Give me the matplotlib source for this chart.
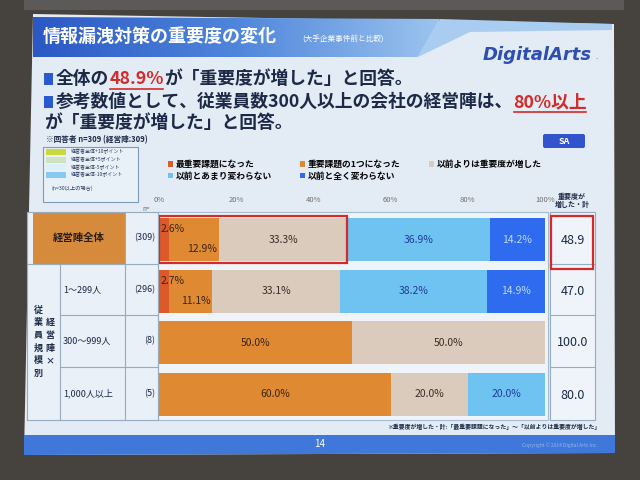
import numpy as np
import matplotlib.pyplot as plt
from matplotlib.patches import Rectangle, Polygon, FancyBboxPatch
from matplotlib.colors import LinearSegmentedColormap

plt.rcParams['font.family'] = ['Noto Sans CJK JP', 'DejaVu Sans']

# データ
categories = ['経営陣全体', '1～299人', '300～999人', '1,000人以上']
n_labels = ['(309)', '(296)', '(8)', '(5)']
series_names = ['最重要課題になった', '重要課題の1つになった', '以前よりは重要度が増した',
                '以前とあまり変わらない', '以前と全く変わらない']
most_important = [2.6, 2.7, 0.0, 0.0]
one_of_important = [12.9, 11.1, 50.0, 60.0]
more_than_before = [33.3, 33.1, 50.0, 20.0]
not_much_changed = [36.9, 38.2, 0.0, 20.0]
not_changed = [14.2, 14.9, 0.0, 0.0]
increased_total = [48.9, 47.0, 100.0, 80.0]
x_ticks = [0, 20, 40, 60, 80, 100]

series = [most_important, one_of_important, more_than_before, not_much_changed, not_changed]
colors = ['#dc5a2a', '#df8a32', '#dacbbd', '#6fc3f1', '#2f6bef']
text_colors = ['#3a2418', '#3a2418', '#3a2e28', '#1f3c9a', '#bcd9ff']

navy = '#1c2a48'
red = '#d42a2a'

fig = plt.figure(figsize=(6.4, 4.8), dpi=100)
fig.patch.set_facecolor('#46433e')

# 背景（ピクセル座標）
bg = fig.add_axes([0, 0, 1, 1])
bg.set_xlim(0, 640)
bg.set_ylim(480, 0)
bg.axis('off')

# スライド
bg.add_patch(Polygon([(33, 14), (614, 24), (615, 453), (24, 455)], closed=True,
                     facecolor='#e3ebf4', edgecolor='none'))
bg.add_patch(Rectangle((24, 0), 600, 10, facecolor='#5b5a58', edgecolor='none'))

# タイトル帯（グラデーション）
grad = np.linspace(0, 1, 256).reshape(1, -1)
cmap = LinearSegmentedColormap.from_list('t', ['#2b58c4', '#4f86dc', '#9cc4ee'])
im = bg.imshow(grad, extent=(33, 440, 57, 17), cmap=cmap, aspect='auto', zorder=1)
clip = Polygon([(33, 17), (440, 19), (418, 57), (33, 57)], closed=True,
               transform=bg.transData, facecolor='none', edgecolor='none')
bg.add_patch(clip)
im.set_clip_path(clip)
bg.add_patch(Polygon([(418, 57), (440, 19), (612, 24), (612, 30), (470, 32)],
                     closed=True, facecolor='#a9cdf0', edgecolor='none', zorder=1))

renderer = fig.canvas.get_renderer()


def seq_text(x, y, parts, size, underline_red=False):
    # 色の違う文字列を横に並べる
    for txt, col in parts:
        t = bg.text(x, y, txt, color=col, fontsize=size, fontweight='bold',
                    va='center', ha='left', zorder=5)
        w = t.get_window_extent(renderer=renderer).width
        if col == red and underline_red:
            bg.plot([x + 1, x + w - 1], [y + 10, y + 10], color=red, lw=1.2, zorder=5)
        x += w
    return x


seq_text(43, 36, [('情報漏洩対策の重要度の変化', 'white')], 13)
bg.text(302, 39, '(大手企業事件前と比較)', color='white', fontsize=5.5, va='center', zorder=5)

# ロゴ
bg.text(537, 55, 'DigitalArts', color='#2e4fb0', fontsize=13, fontweight='bold',
        style='italic', family='DejaVu Sans', ha='center', va='center', zorder=5)
bg.text(595, 59, '.', color='#2e4fb0', fontsize=6, zorder=5)

# 箇条書き
for yy in (79, 102):
    bg.add_patch(Rectangle((44, yy - 6), 9, 12, facecolor='#2a5ad0', edgecolor='none', zorder=5))
seq_text(56, 79, [('全体の', navy), ('48.9%', red), ('が「重要度が増した」と回答。', navy)],
         12.8, underline_red=True)
seq_text(56, 102, [('参考数値として、従業員数300人以上の会社の経営陣は、', navy),
                   ('80%以上', red)], 12.8, underline_red=True)
seq_text(44, 123, [('が「重要度が増した」と回答。', navy)], 12.8)

bg.text(46, 140, '※回答者 n=309 (経営陣:309)', color=navy, fontsize=5.5,
        fontweight='bold', va='center', zorder=5)

# 小さい凡例
bg.add_patch(Rectangle((43, 147), 95, 55, facecolor='#e8f0f8', edgecolor='#7f9bb8', lw=0.8, zorder=3))
small_cols = ['#c9d83c', '#cfe3c2', '#dcf0f8', '#86c9f2']
small_txt = ['経営者全体+10ポイント', '経営者全体+5ポイント', '経営者全体-5ポイント', '経営者全体-10ポイント']
for i, (c, s) in enumerate(zip(small_cols, small_txt)):
    yy = 152 + i * 7.6
    bg.add_patch(Rectangle((46, yy - 3), 20, 6, facecolor=c, edgecolor='none', zorder=4))
    bg.text(71, yy, s, fontsize=3.6, color='#2a3a60', va='center', zorder=5)
bg.text(52, 188, '(n=30以上の場合)', fontsize=3.8, color='#2a3a60', va='center', zorder=5)

# SAボックス
bg.add_patch(FancyBboxPatch((543, 134), 42, 14, boxstyle='round,pad=0,rounding_size=2',
                            facecolor='#3154cc', edgecolor='none', zorder=4))
bg.text(564, 141, 'SA', color='white', fontsize=6.5, fontweight='bold',
        ha='center', va='center', zorder=5)

# 表（左側）
row_b = [212, 264, 315, 367, 420]
bg.add_patch(Rectangle((27, 212), 131, 208, facecolor='#e9f0f7', edgecolor='none', zorder=2))
bg.add_patch(Rectangle((33, 212), 92, 52, facecolor='#d68b3c', edgecolor='none', zorder=3))
line_kw = dict(color='#98acc0', lw=0.8, zorder=4)
bg.plot([27, 158], [212, 212], **line_kw)
bg.plot([27, 158], [420, 420], **line_kw)
bg.plot([27, 158], [264, 264], **line_kw)
for yy in row_b[2:4]:
    bg.plot([60, 158], [yy, yy], **line_kw)
for xx, y0 in ((27, 212), (60, 264), (125, 212), (158, 212)):
    bg.plot([xx, xx], [y0, 420], **line_kw)

bg.text(79, 238, categories[0], fontsize=7.5, fontweight='bold', color='#2a1e14',
        ha='center', va='center', zorder=5)
for i in range(1, 4):
    yc = (row_b[i] + row_b[i + 1]) / 2
    bg.text(63, yc, categories[i], fontsize=6.5, color=navy, ha='left', va='center', zorder=5)
for i in range(4):
    yc = (row_b[i] + row_b[i + 1]) / 2
    bg.text(155, yc, n_labels[i], fontsize=6.5, color=navy, ha='right', va='center', zorder=5)
for j, ch in enumerate('従業員規模別'):
    bg.text(38, 310 + j * 12.6, ch, fontsize=6.5, fontweight='bold', color=navy,
            ha='center', va='center', zorder=5)
for j, ch in enumerate('経営陣×'):
    bg.text(50, 323 + j * 12.6, ch, fontsize=6.5, fontweight='bold', color=navy,
            ha='center', va='center', zorder=5)
bg.text(146, 209, 'n=', fontsize=4.5, color='#666666', ha='center', va='center', zorder=5)

# グラフ領域の枠
bg.add_patch(Rectangle((158, 212), 390, 208, facecolor='#eef4fa', edgecolor='#a8bccf', lw=0.8, zorder=2))

# 右側の合計列
bg.add_patch(Rectangle((550, 212), 45, 208, facecolor='#eef4fa', edgecolor='#98acc0', lw=0.8, zorder=2))
for yy in row_b[1:4]:
    bg.plot([550, 595], [yy, yy], **line_kw)
for i, v in enumerate(increased_total):
    yc = (row_b[i] + row_b[i + 1]) / 2
    bg.text(572.5, yc + 2, f'{v:.1f}', fontsize=9, color=navy, ha='center', va='center', zorder=5)
bg.add_patch(Rectangle((551, 216), 42, 53, facecolor='none', edgecolor=red, lw=1.6, zorder=6))
bg.text(572, 200, '重要度が\n増した・計', fontsize=5, fontweight='bold', color=navy,
        ha='center', va='center', linespacing=1.1, zorder=5)

# 注記
bg.text(600, 427, '※重要度が増した・計:「最重要課題になった」～「以前よりは重要度が増した」',
        fontsize=4.2, fontweight='bold', color=navy, ha='right', va='center', zorder=5)

# 下の帯
bg.add_patch(Polygon([(24, 435), (615, 435), (615, 453), (24, 455)], closed=True,
                     facecolor='#3f78d8', edgecolor='none', zorder=3))
bg.text(320, 444, '14', fontsize=7, color='white', ha='center', va='center', zorder=5)
bg.text(560, 445, 'Copyright © 2014 Digital Arts Inc.', fontsize=3.5, color='#8fb8ef',
        ha='center', va='center', zorder=5)

# 棒グラフ
ax = fig.add_axes([159 / 640, 1 - 420 / 480, 386 / 640, 206 / 480])
ax.set_facecolor('none')
y = np.arange(len(categories))
left = np.zeros(len(categories))
containers = []
for name, vals, col in zip(series_names, series, colors):
    vals = np.array(vals)
    c = ax.barh(y, vals, left=left, height=0.84, color=col, edgecolor='none', label=name)
    containers.append(c)
    left += vals

for si, c in enumerate(containers):
    for ri, rect in enumerate(c):
        w = rect.get_width()
        if w <= 0:
            continue
        x0 = rect.get_x()
        yc = rect.get_y() + rect.get_height() / 2
        lab = f'{w:.1f}%'
        if ri < 2 and si == 0:
            ax.text(x0 + 0.3, yc - 0.2, lab, fontsize=7.5, color=text_colors[si], ha='left', va='center')
        elif ri < 2 and si == 1:
            ax.text(x0 + w - 0.5, yc + 0.18, lab, fontsize=7.5, color=text_colors[si], ha='right', va='center')
        else:
            ax.text(x0 + w / 2, yc, lab, fontsize=7.5, color=text_colors[si], ha='center', va='center')

# 経営陣全体の「増した」部分の赤枠
inc0 = most_important[0] + one_of_important[0] + more_than_before[0]
ax.add_patch(Rectangle((0, -0.46), inc0, 0.92, facecolor='none', edgecolor=red, lw=1.6, zorder=5))

ax.set_xlim(0, 100)
ax.set_ylim(3.5, -0.5)
ax.xaxis.tick_top()
ax.set_xticks(x_ticks)
ax.set_xticklabels([f'{t}%' for t in x_ticks])
ax.tick_params(axis='x', length=0, labelsize=5.5, colors='#707070', pad=7)
ax.set_yticks([])
for s in ax.spines.values():
    s.set_visible(False)

# 凡例
h = containers
fig.legend([h[0], h[3], h[1], h[4], h[2]],
           [series_names[0], series_names[3], series_names[1], series_names[4], series_names[2]],
           ncol=3, loc='upper left', bbox_to_anchor=(160 / 640, 1 - 152 / 480),
           frameon=False, handlelength=0.6, handleheight=0.6,
           handletextpad=0.3, columnspacing=3.2, labelspacing=0.3,
           prop={'weight': 'bold', 'size': 6.3})

fig.savefig('out.png', dpi=100, facecolor=fig.get_facecolor())
